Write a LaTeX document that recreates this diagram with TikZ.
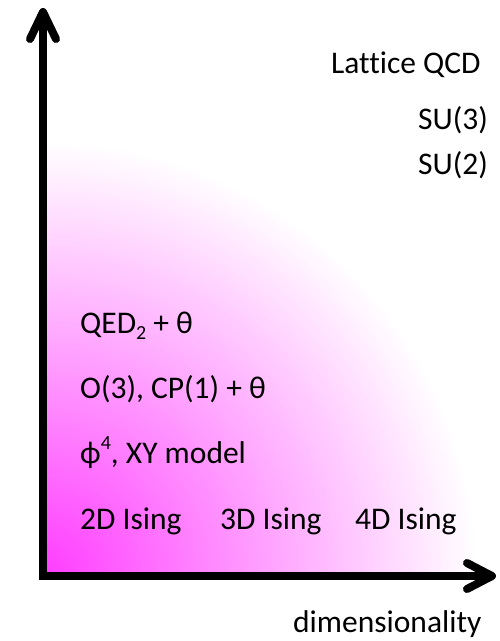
\documentclass[tikz,border=0pt]{standalone}
\usepackage{fontspec}
\setmainfont{Carlito}[Ligatures=NoCommon]
\definecolor{mag}{RGB}{255,60,255}
\newcommand{\lowidx}[1]{\raisebox{-0.22em}{\fontsize{20}{20}\selectfont #1}}
\newcommand{\highidx}[1]{\raisebox{0.42em}{\fontsize{20}{20}\selectfont #1}}
\begin{document}
\begin{tikzpicture}[x=1pt,y=-1pt,
  lbl/.style={anchor=base west, inner sep=0pt, font=\fontsize{31.5}{36}\selectfont},
  axisline/.style={line width=8pt, line cap=butt},
  headline/.style={line width=8pt, line cap=round, line join=round}]
\useasboundingbox (0,0) rectangle (500,641);
\coordinate (O) at (43,576);
% gradient region (radial fade from the origin)
\begin{scope}
  \clip (43,0) rectangle (500,576);
  \foreach \i in {150,149,...,1}{
    \pgfmathsetmacro{\pct}{100*(1-\i/150)}
    \fill[mag!\pct!white] (O) circle ({2.9*\i});
  }
\end{scope}
% axes
\coordinate (ytip) at (43,12);
\coordinate (xtip) at (492,576);
\coordinate (yl) at (30,39);
\coordinate (yr) at (56,39);
\coordinate (xu) at (467,563);
\coordinate (xd) at (467,589);
\draw[axisline] (O) -- (ytip);
\draw[axisline] ([xshift=-4pt]O) -- (xtip);
\draw[headline] (yl) -- (ytip) -- (yr);
\draw[headline] (xu) -- (xtip) -- (xd);
% labels
\node[lbl] (lqcd) at (331,73) {Lattice QCD};
\node[lbl] (su3) at (418,129) {SU(3)};
\node[lbl] (su2) at (418,174) {SU(2)};
\node[lbl] (qed) at (80,333) {QED\lowidx{2} + θ};
\node[lbl] (o3) at (80,398) {O(3), CP(1) + θ};
\node[lbl] (phi) at (80,463) {ϕ\highidx{4}, XY model};
\node[lbl] (is2) at (80,529) {2D Ising};
\node[lbl] (is3) at (220,529) {3D Ising};
\node[lbl] (is4) at (355,529) {4D Ising};
\node[lbl] (dim) at (293,632) {dimensionality};
\end{tikzpicture}
\end{document}
